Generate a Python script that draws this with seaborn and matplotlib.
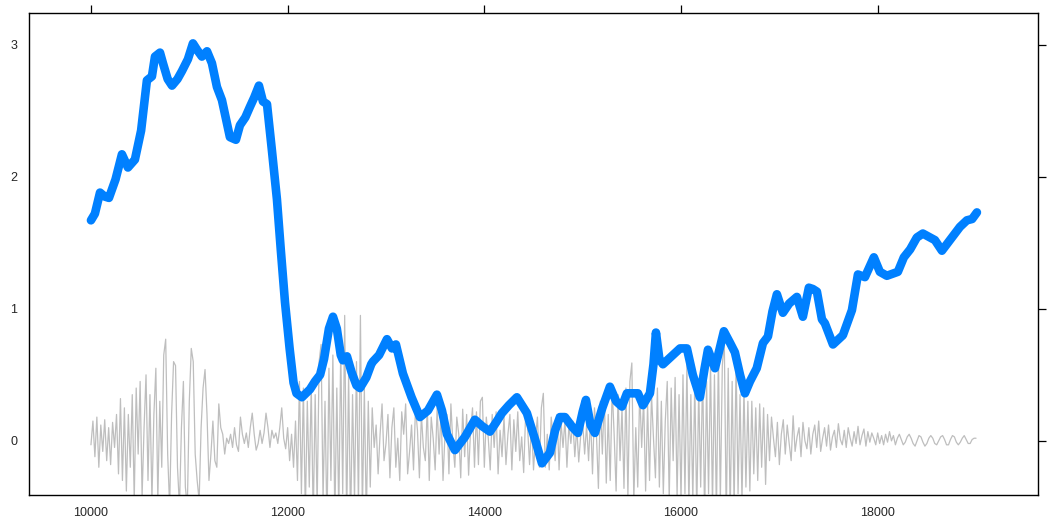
"""
Smoothed series (blue) over the detail component (gray), lattice look
"""
import numpy as np
import pandas as pd
import matplotlib
matplotlib.use("Agg")
import matplotlib.pyplot as plt
import seaborn as sns

# smoothed curve
smooth_x = [10000, 10040, 10092, 10140, 10183, 10250, 10315, 10376, 10447, 10510,
            10569, 10620, 10651, 10702, 10732, 10780, 10824, 10880, 10925, 10986,
            11037, 11080, 11128, 11180, 11230, 11281, 11332, 11413, 11474, 11515,
            11570, 11617, 11660, 11708, 11749, 11790, 11840, 11891, 11930, 11973,
            12020, 12060, 12090, 12145, 12227, 12278, 12330, 12370, 12420, 12461,
            12500, 12540, 12562, 12603, 12650, 12700, 12735, 12800, 12850, 12867,
            12930, 13010, 13061, 13101, 13172, 13260, 13345, 13427, 13518, 13569,
            13620, 13701, 13803, 13904, 13980, 14057, 14120, 14179, 14250, 14331,
            14433, 14520, 14586, 14667, 14720, 14769, 14820, 14900, 14952, 15000,
            15033, 15080, 15124, 15200, 15277, 15340, 15399, 15450, 15562, 15613,
            15684, 15720, 15745, 15780, 15816, 15918, 15990, 16060, 16120, 16192,
            16240, 16274, 16345, 16436, 16500, 16548, 16600, 16650, 16701, 16770,
            16833, 16884, 16930, 16975, 17036, 17100, 17178, 17239, 17300, 17340,
            17382, 17433, 17463, 17545, 17646, 17738, 17799, 17870, 17961, 18022,
            18093, 18205, 18266, 18330, 18398, 18459, 18582, 18653, 18734, 18836,
            18907, 18960, 19009]
smooth_y = [1.67, 1.72, 1.88, 1.85, 1.84, 1.98, 2.17, 2.07, 2.13, 2.35,
            2.73, 2.76, 2.91, 2.94, 2.86, 2.74, 2.69, 2.74, 2.80, 2.89,
            3.01, 2.96, 2.91, 2.95, 2.86, 2.68, 2.58, 2.30, 2.28, 2.39,
            2.45, 2.53, 2.60, 2.69, 2.57, 2.55, 2.20, 1.83, 1.45, 1.05,
            0.70, 0.44, 0.36, 0.33, 0.39, 0.45, 0.50, 0.62, 0.85, 0.94,
            0.85, 0.65, 0.61, 0.64, 0.52, 0.42, 0.40, 0.48, 0.58, 0.60,
            0.65, 0.77, 0.70, 0.73, 0.51, 0.33, 0.18, 0.23, 0.35, 0.23,
            0.05, -0.07, 0.03, 0.16, 0.11, 0.07, 0.14, 0.21, 0.27, 0.33,
            0.21, 0.00, -0.17, -0.09, 0.08, 0.18, 0.18, 0.10, 0.06, 0.22,
            0.31, 0.12, 0.06, 0.25, 0.41, 0.30, 0.26, 0.36, 0.36, 0.27,
            0.36, 0.58, 0.82, 0.62, 0.58, 0.65, 0.70, 0.70, 0.50, 0.33,
            0.55, 0.69, 0.55, 0.83, 0.74, 0.67, 0.50, 0.36, 0.45, 0.55,
            0.74, 0.79, 0.98, 1.11, 0.97, 1.04, 1.09, 0.94, 1.16, 1.15,
            1.13, 0.92, 0.89, 0.73, 0.80, 0.99, 1.26, 1.24, 1.39, 1.28,
            1.25, 1.28, 1.39, 1.45, 1.54, 1.57, 1.52, 1.44, 1.52, 1.62,
            1.67, 1.68, 1.73]

# detail component (gray), one value every 20 units starting at 10000
detail_start = 10000
detail_step = 20
detail_a = [-0.03, 0.15, -0.12, 0.18, -0.20, 0.12, -0.08, 0.16, -0.15, 0.10,
            -0.18, 0.14, -0.05, 0.20, -0.25, 0.32, -0.30, 0.25, -0.38, 0.20,
            -0.20, 0.35, -0.45, 0.40, -0.10, 0.45, -0.42, 0.10, 0.50, -0.30,
            0.35, -0.45, 0.20, 0.55, -0.45, 0.30, -0.20, 0.65, 0.77, -0.10,
            -0.50, 0.20, 0.60, 0.57, -0.20, -0.50, 0.10, 0.45, -0.35, -0.50,
            0.30, 0.70, 0.60, -0.10, -0.30, -0.45, 0.10, 0.40, 0.54, 0.20,
            -0.30, -0.10, 0.15, -0.15, -0.20, 0.28, 0.10, 0.05, -0.10, 0.02,
            -0.02, 0.05, -0.05, 0.10, -0.03, -0.08, 0.18, 0.05, -0.02, 0.06,
            -0.05, 0.10, 0.21, 0.05, -0.07, -0.02, 0.08, -0.02, 0.06, 0.21,
            0.10, -0.05, 0.08, 0.02, 0.06, -0.02, 0.10, 0.25, 0.02, -0.06]
detail_b = [0.10, -0.15, 0.05, -0.20, 0.15, -0.30, 0.45, -0.40, 0.40, -0.55,
            0.30, -0.35, 0.42, -0.60, 0.35, -0.50, 0.60, 0.73, -0.45, 0.30,
            -0.65, 0.55, -0.30, 0.65, -0.60, 0.40, -0.55, 0.70, -0.40, 0.95,
            -0.60, 0.50, -0.65, 0.35, -0.45, 0.60, -0.50, 0.95, -0.55, 0.40,
            -0.60, 0.30, -0.35, 0.25, -0.05, 0.12, -0.25, 0.05, 0.28, -0.15,
            -0.02, 0.20, -0.28, 0.10, 0.25, -0.20, 0.02, -0.30, 0.22, 0.05,
            0.28, -0.25, -0.08, 0.12, -0.22, 0.25, 0.08, -0.28, 0.20, -0.05,
            -0.15, 0.26, -0.30, 0.18, 0.02, -0.22, 0.25, -0.10, 0.22, -0.30,
            0.05, 0.20, -0.25, 0.28, -0.02, -0.20, 0.18, 0.05, -0.28, 0.24,
            -0.12, 0.20, -0.26, 0.08, 0.25, -0.20, 0.22, -0.18, 0.30, 0.33]
detail_c = [-0.20, 0.18, 0.02, -0.22, 0.20, -0.05, 0.22, -0.25, 0.08, -0.12,
            0.18, -0.18, 0.05, 0.20, -0.22, 0.16, -0.08, 0.22, -0.15, 0.03,
            -0.24, 0.20, 0.10, -0.18, 0.15, -0.22, 0.02, 0.18, -0.20, 0.25,
            0.36, -0.20, 0.05, -0.22, 0.18, 0.02, -0.15, 0.20, -0.22, 0.14,
            -0.05, 0.16, -0.20, 0.12, -0.02, 0.15, -0.12, 0.10, -0.16, 0.04,
            0.14, -0.10, 0.12, -0.15, 0.18, -0.25, 0.25, 0.05, -0.36, 0.30,
            -0.10, 0.35, -0.32, 0.20, -0.30, 0.40, 0.05, -0.38, 0.35, -0.15,
            0.25, -0.36, 0.40, -0.42, 0.45, 0.59, -0.45, 0.10, -0.35, 0.38,
            -0.05, 0.32, -0.38, 0.28, -0.30, 0.35, 0.02, -0.28, 0.40, -0.35,
            0.30, -0.40, 0.15, 0.45, -0.45, 0.40, -0.15, 0.48, -0.42, 0.35]
detail_d = [-0.45, 0.50, -0.40, 0.58, -0.50, 0.35, -0.45, 0.45, -0.55, 0.40,
            -0.35, 0.55, -0.60, 0.45, -0.40, 0.60, -0.50, 0.50, -0.55, 0.65,
            -0.45, 0.57, 0.77, -0.60, 0.55, -0.55, 0.45, -0.50, 0.60, -0.40,
            0.35, -0.45, 0.40, -0.35, 0.30, -0.38, 0.30, -0.25, 0.25, -0.30,
            0.28, -0.20, 0.25, -0.33, 0.20, -0.15, 0.18, 0.02, -0.12, 0.14,
            -0.18, 0.05, 0.16, -0.10, 0.12, -0.02, -0.15, 0.19, -0.08, 0.03,
            0.10, -0.12, 0.14, 0.00, -0.06, 0.10, -0.10, 0.05, 0.12, -0.05,
            0.15, -0.08, 0.02, 0.10, -0.04, 0.12, -0.07, 0.03, 0.08, -0.05,
            0.13, 0.01, -0.03, 0.08, -0.05, 0.10, 0.02, -0.04, 0.07, -0.02,
            0.11, -0.03, 0.04, 0.09, -0.04, 0.07, -0.01, 0.06, 0.02, -0.03]
detail_e = [0.06, -0.02, 0.04, -0.03, 0.05, -0.01, 0.07, 0.00, 0.04, -0.03,
            0.02, 0.05, 0.01, -0.03, -0.01, 0.03, 0.05, 0.02, -0.02, -0.04,
            0.00, 0.04, 0.03, -0.01, -0.04, -0.02, 0.02, 0.04, 0.02, -0.02,
            -0.03, 0.00, 0.03, 0.04, 0.01, -0.03, -0.03, 0.01, 0.04, 0.03,
            -0.01, -0.03, -0.01, 0.02, 0.04, 0.01, -0.02, -0.02, 0.01, 0.02,
            0.02]

x_ticks = [10000, 12000, 14000, 16000, 18000]
y_ticks = [0, 1, 2, 3]

detail_vals = detail_a + detail_b + detail_c + detail_d + detail_e
detail_df = pd.DataFrame({
    "x": detail_start + detail_step * np.arange(len(detail_vals)),
    "y": detail_vals,
})
smooth_df = pd.DataFrame({"x": smooth_x, "y": smooth_y})

sns.set_style("white")
plt.rcParams["font.family"] = ["Liberation Sans", "DejaVu Sans"]

fig = plt.figure(figsize=(10.48, 5.25), dpi=100)
ax = fig.add_axes([29 / 1048, 1 - 495 / 525, 1009 / 1048, 482 / 525])

sns.lineplot(data=detail_df, x="x", y="y", ax=ax, color="#bebebe",
             linewidth=0.9, estimator=None, sort=False)
sns.lineplot(data=smooth_df, x="x", y="y", ax=ax, color="#0080ff",
             linewidth=6.2, estimator=None, sort=False,
             solid_capstyle="round", solid_joinstyle="round")

ax.set_xlim(9370, 19630)
ax.set_ylim(-0.41, 3.24)
ax.set_xticks(x_ticks)
ax.set_xticklabels([str(t) for t in x_ticks])
ax.set_yticks(y_ticks)
ax.set_yticklabels([str(t) for t in y_ticks])
ax.set_xlabel("")
ax.set_ylabel("")

for side in ["left", "right", "top", "bottom"]:
    ax.spines[side].set_color("black")
    ax.spines[side].set_linewidth(1.0)

ax.tick_params(axis="both", which="both", direction="out", length=5.5,
               width=0.9, color="black", labelsize=9, pad=3,
               top=True, right=True, labeltop=False, labelright=False)

fig.savefig("out.png", dpi=100)
